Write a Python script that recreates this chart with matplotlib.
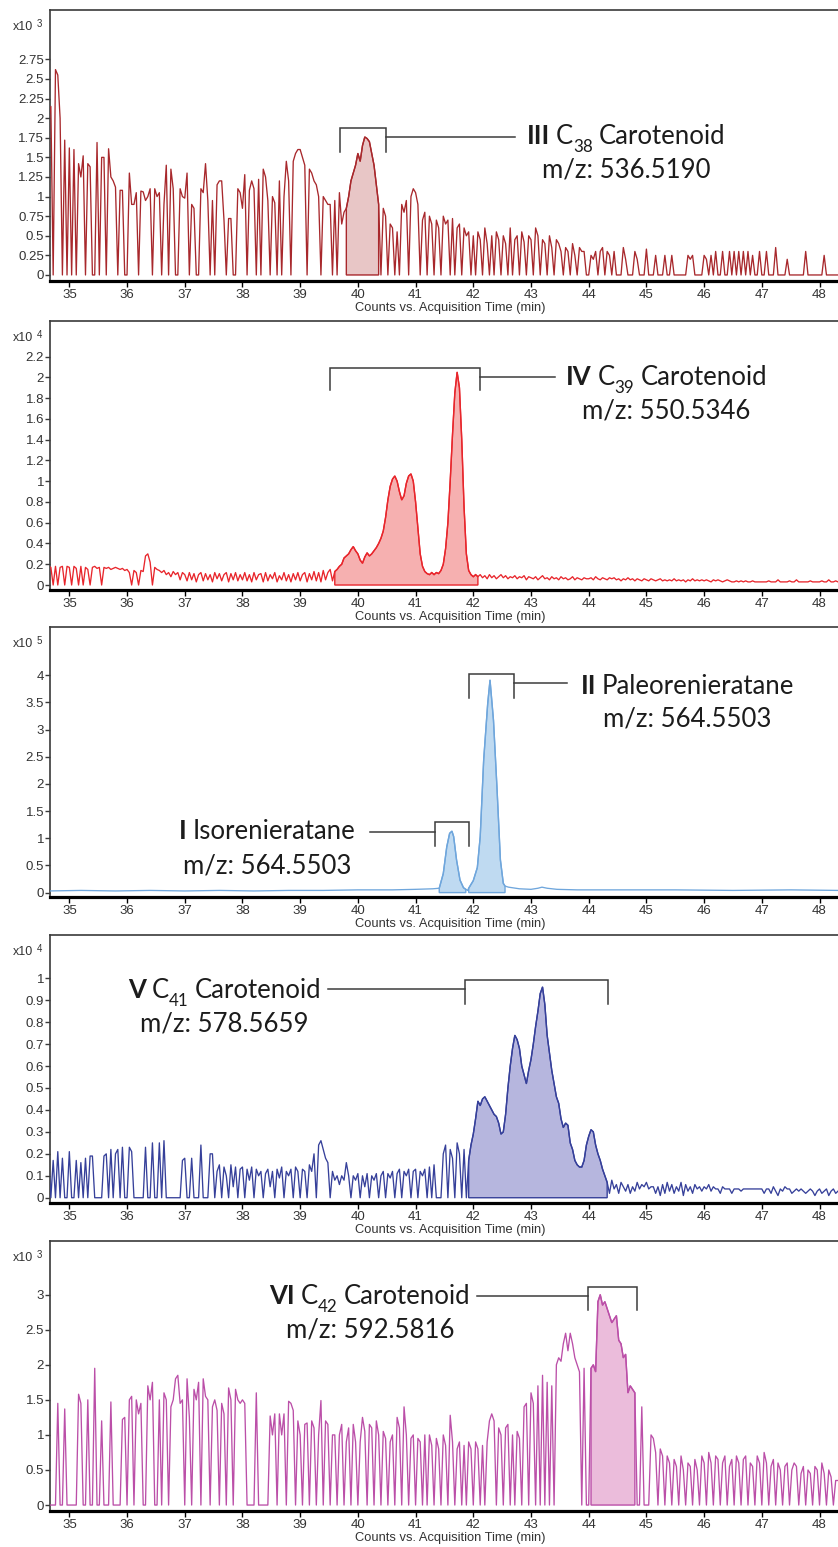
import numpy as np
import matplotlib
matplotlib.use("Agg")
import matplotlib.pyplot as plt
from matplotlib import transforms
from matplotlib.ticker import FixedLocator, FuncFormatter

plt.rcParams["font.family"] = ["Liberation Sans", "DejaVu Sans"]

# Extracted-ion chromatograms, one scan every SCAN_STEP minutes from SCAN_START.
SCAN_START = 34.64
SCAN_STEP = 0.04

# III  C38 carotenoid, m/z 536.5190 (x10^3 counts)
C38_COUNTS = [
    2.0, 2.15, 0.0, 2.62, 2.55, 2.0, 0.0, 1.72, 0.0,
    1.62, 0.0, 1.6, 0.0, 1.42, 1.25, 1.52, 0.0, 1.42, 1.38, 0.0, 0.0, 1.69, 0.0, 1.5, 1.5, 0.0, 1.61, 1.25, 1.2, 1.12, 0.0, 1.08, 1.08, 0.0,
    0.0, 1.3, 0.9, 0.9, 1.05, 0.0, 1.07, 1.06, 0.95, 1.0, 1.1, 0.0, 1.1, 1.0, 1.05, 0.0, 0.9, 1.4, 0.0, 1.35, 1.1, 0.0, 0.0, 1.1, 1.0,
    0.98, 1.3, 0.0, 0.9, 0.85, 0.0, 0.0, 1.1, 1.05, 1.42, 0.95, 0.0, 0.95, 0.0, 1.15, 1.2, 1.2, 0.7, 0.0, 0.72, 0.72, 0.0, 0.0, 1.1, 1.05,
    0.85, 1.28, 0.0, 1.08, 1.2, 1.1, 0.0, 1.22, 0.0, 1.35, 1.25, 0.95, 0.0, 1.0, 0.92, 0.0, 1.2, 0.0, 1.0, 1.45, 1.2, 0.0, 1.45, 1.55, 1.6,
    1.6, 1.5, 1.4, 0.0, 1.35, 1.3, 1.2, 1.15, 1.0, 0.0, 1.0, 0.95, 0.9, 0.9, 0.0, 0.95, 0.0, 1.05, 0.65, 0.8, 0.85, 1.0, 1.2, 1.3, 1.4,
    1.55, 1.45, 1.65, 1.76, 1.74, 1.7, 1.55, 1.4, 1.15, 0.9, 0.0, 0.85, 0.75, 0.0, 0.65, 0.6, 0.0, 0.55, 0.0, 0.9, 0.8, 0.95, 0.0, 1.0, 1.1,
    1.05, 0.9, 0.0, 0.7, 0.8, 0.0, 0.75, 0.65, 0.0, 0.7, 0.6, 0.0, 0.75, 0.65, 0.7, 0.0, 0.72, 0.0, 0.6, 0.65, 0.0, 0.6, 0.5, 0.55, 0.0,
    0.5, 0.0, 0.55, 0.45, 0.0, 0.6, 0.4, 0.0, 0.5, 0.0, 0.55, 0.45, 0.0, 0.5, 0.4, 0.0, 0.6, 0.0, 0.45, 0.5, 0.0, 0.55, 0.42, 0.0, 0.5,
    0.45, 0.0, 0.6, 0.5, 0.0, 0.45, 0.4, 0.0, 0.5, 0.35, 0.0, 0.45, 0.4, 0.3, 0.0, 0.35, 0.3, 0.0, 0.4, 0.25, 0.0, 0.35, 0.3, 0.3, 0.0,
    0.0, 0.25, 0.2, 0.3, 0.0, 0.3, 0.35, 0.0, 0.3, 0.25, 0.0, 0.3, 0.0, 0.0, 0.0, 0.35, 0.2, 0.0, 0.0, 0.0, 0.3, 0.2, 0.0, 0.0, 0.0,
    0.33, 0.0, 0.0, 0.0, 0.25, 0.0, 0.0, 0.0, 0.25, 0.0, 0.0, 0.25, 0.0, 0.0, 0.0, 0.0, 0.0, 0.0, 0.25, 0.2, 0.25, 0.0, 0.0, 0.0, 0.0,
    0.25, 0.2, 0.0, 0.25, 0.0, 0.3, 0.0, 0.0, 0.3, 0.0, 0.0, 0.3, 0.0, 0.3, 0.0, 0.3, 0.0, 0.3, 0.0, 0.3, 0.0, 0.25, 0.0, 0.0, 0.3,
    0.0, 0.0, 0.3, 0.0, 0.0, 0.0, 0.35, 0.0, 0.0, 0.0, 0.0, 0.2, 0.0, 0.0, 0.0, 0.0, 0.0, 0.0, 0.0, 0.3, 0.0, 0.0, 0.0, 0.0, 0.0,
    0.0, 0.0, 0.25, 0.0, 0.0, 0.0, 0.0, 0.0, 0.0,
]

# IV  C39 carotenoid, m/z 550.5346 (x10^4 counts)
C39_COUNTS = [
    0.18, 0.17, 0.0, 0.18, 0.0, 0.17, 0.18, 0.0, 0.18,
    0.17, 0.0, 0.18, 0.16, 0.0, 0.18, 0.0, 0.17, 0.15, 0.0, 0.17, 0.18, 0.16, 0.17, 0.0, 0.17, 0.16, 0.17, 0.15, 0.16, 0.17, 0.16, 0.15, 0.16, 0.14,
    0.15, 0.12, 0.0, 0.14, 0.12, 0.0, 0.14, 0.13, 0.28, 0.3, 0.22, 0.0, 0.17, 0.15, 0.14, 0.12, 0.14, 0.1, 0.12, 0.08, 0.13, 0.1, 0.12, 0.05, 0.12,
    0.1, 0.04, 0.12, 0.05, 0.11, 0.03, 0.1, 0.12, 0.04, 0.11, 0.05, 0.1, 0.03, 0.12, 0.06, 0.11, 0.04, 0.1, 0.12, 0.03, 0.11, 0.05, 0.12, 0.04, 0.1,
    0.05, 0.12, 0.04, 0.1, 0.03, 0.12, 0.05, 0.1, 0.11, 0.03, 0.12, 0.04, 0.1, 0.06, 0.12, 0.03, 0.09, 0.05, 0.12, 0.04, 0.1, 0.03, 0.11, 0.05, 0.12,
    0.04, 0.1, 0.12, 0.03, 0.11, 0.05, 0.13, 0.04, 0.12, 0.03, 0.14, 0.05, 0.12, 0.15, 0.04, 0.13, 0.15, 0.18, 0.2, 0.26, 0.28, 0.3, 0.34, 0.37, 0.33,
    0.3, 0.24, 0.21, 0.27, 0.31, 0.28, 0.3, 0.33, 0.36, 0.4, 0.45, 0.52, 0.65, 0.82, 0.95, 1.02, 1.05, 1.0, 0.9, 0.82, 0.86, 0.98, 1.05, 1.07, 1.0,
    0.8, 0.55, 0.3, 0.18, 0.13, 0.11, 0.1, 0.12, 0.1, 0.12, 0.11, 0.14, 0.2, 0.35, 0.6, 1.0, 1.45, 1.85, 2.05, 1.9, 1.4, 0.75, 0.3, 0.14, 0.1,
    0.08, 0.1, 0.08, 0.1, 0.07, 0.09, 0.06, 0.1, 0.07, 0.09, 0.06, 0.08, 0.1, 0.07, 0.09, 0.06, 0.08, 0.07, 0.09, 0.06, 0.08, 0.07, 0.09, 0.05, 0.08,
    0.07, 0.06, 0.08, 0.05, 0.07, 0.09, 0.06, 0.07, 0.05, 0.08, 0.06, 0.07, 0.05, 0.08, 0.06, 0.07, 0.05, 0.06, 0.08, 0.05, 0.07, 0.06, 0.05, 0.07, 0.06,
    0.06, 0.07, 0.05, 0.08, 0.06, 0.05, 0.07, 0.06, 0.05, 0.07, 0.06, 0.07, 0.05, 0.06, 0.04, 0.06, 0.05, 0.07, 0.05, 0.06, 0.04, 0.06, 0.05, 0.04, 0.06,
    0.05, 0.04, 0.06, 0.05, 0.04, 0.05, 0.06, 0.04, 0.05, 0.04, 0.05, 0.04, 0.06, 0.04, 0.05, 0.04, 0.05, 0.03, 0.05, 0.04, 0.06, 0.04, 0.05, 0.04, 0.05,
    0.04, 0.05, 0.04, 0.03, 0.05, 0.04, 0.05, 0.04, 0.03, 0.04, 0.05, 0.04, 0.03, 0.03, 0.04, 0.03, 0.04, 0.03, 0.04, 0.03, 0.03, 0.04, 0.03, 0.03, 0.03,
    0.03, 0.03, 0.03, 0.04, 0.03, 0.03, 0.03, 0.05, 0.03, 0.03, 0.03, 0.03, 0.04, 0.03, 0.03, 0.05, 0.03, 0.03, 0.03, 0.03, 0.03, 0.04, 0.03, 0.03, 0.03,
    0.03, 0.04, 0.03, 0.03, 0.05, 0.03, 0.03, 0.04, 0.03,
]

# I Isorenieratane / II Paleorenieratane, m/z 564.5503 (x10^5 counts), peak-picked vertices
C40_TIMES = [34.64, 35.2, 35.8, 36.4, 37.0, 37.6, 38.2, 38.8, 39.4, 40.0,
             40.6, 41.0, 41.3, 41.41, 41.48, 41.54, 41.59, 41.63, 41.66, 41.71,
             41.77, 41.83, 41.87, 41.9, 41.92, 41.96, 42.0, 42.07, 42.12, 42.18,
             42.25, 42.29, 42.35, 42.41, 42.47, 42.52, 42.55, 42.61, 42.8, 43.0,
             43.12, 43.19, 43.28, 43.45, 43.8, 44.5, 45.5, 46.5, 47.5, 48.32]
C40_COUNTS = [0.03, 0.04, 0.03, 0.04, 0.03, 0.04, 0.03, 0.04, 0.04, 0.05,
              0.05, 0.06, 0.07, 0.08, 0.35, 0.84, 1.09, 1.13, 1.03, 0.6,
              0.23, 0.09, 0.06, 0.04, 0.08, 0.15, 0.22, 0.46, 1.03, 2.44,
              3.48, 3.91, 3.17, 1.94, 0.6, 0.17, 0.12, 0.1, 0.07, 0.06,
              0.08, 0.1, 0.08, 0.06, 0.05, 0.05, 0.05, 0.04, 0.05, 0.04]

# V  C41 carotenoid, m/z 578.5659 (x10^4 counts)
C41_COUNTS = [
    0.18, 0.0, 0.17, 0.0, 0.21, 0.0, 0.18, 0.0, 0.0,
    0.21, 0.0, 0.0, 0.17, 0.0, 0.16, 0.0, 0.18, 0.0, 0.19, 0.19, 0.0, 0.0, 0.0, 0.0, 0.19, 0.2, 0.0, 0.22, 0.0, 0.2, 0.22, 0.0, 0.23, 0.0,
    0.0, 0.23, 0.21, 0.0, 0.0, 0.0, 0.0, 0.0, 0.23, 0.0, 0.0, 0.25, 0.0, 0.0, 0.25, 0.0, 0.26, 0.0, 0.0, 0.0, 0.0, 0.0, 0.0, 0.0, 0.17,
    0.18, 0.0, 0.0, 0.18, 0.0, 0.0, 0.0, 0.24, 0.0, 0.0, 0.0, 0.2, 0.2, 0.0, 0.12, 0.15, 0.0, 0.14, 0.1, 0.0, 0.15, 0.05, 0.14, 0.0, 0.13,
    0.14, 0.0, 0.13, 0.08, 0.14, 0.0, 0.13, 0.1, 0.12, 0.0, 0.11, 0.13, 0.05, 0.12, 0.0, 0.13, 0.09, 0.14, 0.0, 0.12, 0.1, 0.13, 0.0, 0.14, 0.12,
    0.0, 0.13, 0.12, 0.0, 0.15, 0.12, 0.2, 0.0, 0.24, 0.26, 0.22, 0.18, 0.16, 0.0, 0.12, 0.08, 0.1, 0.06, 0.1, 0.08, 0.16, 0.1, 0.0, 0.1, 0.08,
    0.11, 0.0, 0.1, 0.05, 0.11, 0.0, 0.1, 0.08, 0.11, 0.0, 0.1, 0.12, 0.0, 0.11, 0.09, 0.12, 0.0, 0.11, 0.13, 0.0, 0.12, 0.1, 0.13, 0.0, 0.12,
    0.13, 0.0, 0.12, 0.1, 0.13, 0.0, 0.14, 0.0, 0.15, 0.0, 0.0, 0.0, 0.2, 0.24, 0.0, 0.22, 0.18, 0.0, 0.25, 0.2, 0.0, 0.22, 0.0, 0.17, 0.24,
    0.29, 0.36, 0.44, 0.42, 0.45, 0.46, 0.44, 0.42, 0.4, 0.38, 0.37, 0.34, 0.29, 0.3, 0.38, 0.5, 0.6, 0.68, 0.74, 0.72, 0.68, 0.6, 0.56, 0.52, 0.58,
    0.63, 0.7, 0.78, 0.85, 0.93, 0.96, 0.88, 0.74, 0.66, 0.58, 0.52, 0.46, 0.43, 0.36, 0.32, 0.34, 0.33, 0.25, 0.22, 0.17, 0.15, 0.14, 0.14, 0.17, 0.24,
    0.28, 0.31, 0.3, 0.24, 0.2, 0.17, 0.13, 0.1, 0.07, 0.02, 0.08, 0.04, 0.06, 0.02, 0.07, 0.05, 0.03, 0.06, 0.02, 0.05, 0.03, 0.07, 0.04, 0.06, 0.05,
    0.07, 0.04, 0.05, 0.05, 0.02, 0.05, 0.01, 0.06, 0.02, 0.07, 0.03, 0.06, 0.02, 0.05, 0.03, 0.07, 0.01, 0.06, 0.03, 0.05, 0.02, 0.06, 0.04, 0.05, 0.03,
    0.05, 0.04, 0.06, 0.03, 0.05, 0.04, 0.04, 0.02, 0.05, 0.04, 0.04, 0.04, 0.02, 0.04, 0.04, 0.04, 0.03, 0.04, 0.04, 0.04, 0.04, 0.04, 0.04, 0.04, 0.04,
    0.04, 0.02, 0.04, 0.04, 0.02, 0.05, 0.03, 0.01, 0.04, 0.03, 0.05, 0.04, 0.04, 0.02, 0.03, 0.04, 0.03, 0.04, 0.03, 0.02, 0.03, 0.04, 0.03, 0.01, 0.03,
    0.04, 0.02, 0.03, 0.04, 0.01, 0.03, 0.04, 0.02, 0.03,
]

# VI  C42 carotenoid, m/z 592.5816 (x10^3 counts)
C42_COUNTS = [
    0.0, 0.0, 0.0, 0.0, 1.45, 0.0, 0.0, 1.37, 0.0,
    0.0, 0.0, 0.0, 0.0, 1.58, 1.45, 0.0, 0.0, 1.5, 0.0, 0.0, 1.95, 0.0, 0.0, 1.2, 0.0, 0.0, 0.0, 1.47, 0.0, 0.0, 0.0, 0.0, 1.22, 1.25,
    0.0, 1.5, 1.55, 0.0, 1.5, 1.3, 1.45, 0.0, 0.0, 1.7, 1.5, 1.75, 0.0, 0.0, 1.5, 0.0, 1.6, 1.5, 0.0, 1.4, 1.5, 1.8, 1.85, 1.45, 1.5,
    0.0, 1.8, 1.25, 0.0, 1.65, 1.5, 1.75, 0.0, 1.8, 1.55, 1.5, 0.0, 1.4, 1.5, 1.35, 0.0, 1.45, 1.3, 0.0, 1.67, 1.5, 0.0, 1.65, 1.5, 1.45,
    1.5, 1.45, 0.0, 0.0, 0.0, 0.0, 1.6, 0.0, 0.0, 0.0, 0.0, 0.0, 1.27, 1.0, 1.3, 0.0, 1.3, 1.0, 1.3, 0.0, 1.48, 1.45, 1.35, 0.0, 1.2,
    1.0, 0.0, 1.15, 1.17, 0.0, 1.2, 1.1, 0.0, 1.0, 1.49, 0.0, 1.2, 1.15, 0.0, 1.0, 1.0, 0.0, 1.0, 1.15, 0.0, 0.9, 1.1, 0.0, 1.15, 0.9,
    0.0, 0.9, 1.25, 1.05, 0.0, 1.15, 1.1, 0.0, 1.2, 1.0, 0.0, 1.05, 0.95, 0.0, 0.9, 1.0, 0.0, 1.25, 1.1, 0.0, 1.4, 1.0, 0.0, 0.95, 1.0,
    0.0, 0.95, 0.9, 0.0, 1.0, 0.0, 1.0, 0.85, 0.0, 0.95, 0.8, 0.0, 1.0, 0.85, 0.0, 1.28, 0.9, 0.0, 0.8, 0.9, 0.0, 0.85, 0.0, 0.9, 0.8,
    0.0, 0.9, 0.8, 0.0, 0.85, 0.0, 0.9, 1.2, 1.3, 1.2, 0.0, 1.1, 1.0, 0.0, 1.1, 1.15, 0.0, 1.0, 0.0, 1.05, 0.95, 0.0, 1.4, 1.45, 0.0,
    1.6, 1.45, 0.0, 1.7, 0.0, 1.85, 0.0, 1.75, 0.0, 1.7, 0.0, 2.0, 2.1, 2.05, 2.3, 2.45, 2.2, 2.45, 2.3, 2.1, 2.0, 1.9, 0.0, 1.95, 0.0,
    0.0, 1.95, 2.0, 1.9, 2.9, 3.0, 2.85, 2.9, 2.8, 2.7, 2.6, 2.65, 2.7, 2.35, 2.3, 2.1, 2.15, 1.6, 1.7, 1.65, 1.6, 0.0, 0.0, 1.4, 0.0,
    0.0, 0.0, 1.0, 0.95, 0.75, 0.0, 0.8, 0.7, 0.0, 0.7, 0.6, 0.0, 0.65, 0.55, 0.0, 0.7, 0.5, 0.0, 0.6, 0.55, 0.0, 0.65, 0.5, 0.0, 0.7,
    0.6, 0.0, 0.75, 0.6, 0.0, 0.7, 0.65, 0.0, 0.6, 0.7, 0.0, 0.55, 0.65, 0.0, 0.7, 0.6, 0.0, 0.65, 0.7, 0.0, 0.6, 0.55, 0.0, 0.7, 0.6,
    0.0, 0.75, 0.6, 0.0, 0.55, 0.65, 0.0, 0.6, 0.5, 0.0, 0.55, 0.6, 0.0, 0.5, 0.6, 0.55, 0.0, 0.45, 0.55, 0.0, 0.5, 0.45, 0.0, 0.55, 0.5,
    0.0, 0.6, 0.45, 0.0, 0.5, 0.4, 0.0, 0.35, 0.35,
]

X_TICKS = list(range(35, 49))


def scan_times(values):
    return np.round(SCAN_START + SCAN_STEP * np.arange(len(values)), 2)


W_PX, H_PX = 838, 1547
fig = plt.figure(figsize=(W_PX / 100, H_PX / 100), dpi=100)
renderer = fig.canvas.get_renderer()

# label runs: (text, kind, gap before in px); kind is "b" bold, "r" regular, "s" subscript
PANELS = [
    dict(t=scan_times(C38_COUNTS), y=C38_COUNTS, top=10, bottom=281, ylim=(-0.077, 3.38),
         yticks=[0, 0.25, 0.5, 0.75, 1, 1.25, 1.5, 1.75, 2, 2.25, 2.5, 2.75], exp="3",
         line="#a8282c", face="#e8c6c6", areas=[(39.80, 40.36)],
         marks=[dict(bracket=(39.69, 40.49, 1.875, 1.57), link=(40.49, 42.72, 1.76),
                     cx=44.65, y1=1.671, y2=1.246,
                     l1=[("III", "b", 0), ("C", "r", 6), ("38", "s", 0), ("Carotenoid", "r", 6)],
                     l2="m/z: 536.5190")]),
    dict(t=scan_times(C39_COUNTS), y=C39_COUNTS, top=321, bottom=590, ylim=(-0.048, 2.543),
         yticks=[0, 0.2, 0.4, 0.6, 0.8, 1, 1.2, 1.4, 1.6, 1.8, 2, 2.2], exp="4",
         line="#e8262c", face="#f6b0b0", areas=[(39.60, 42.08)],
         marks=[dict(bracket=(39.52, 42.12, 2.093, 1.879), link=(42.12, 43.42, 2.0),
                     cx=45.35, y1=1.925, y2=1.604,
                     l1=[("IV", "b", 0), ("C", "r", 6), ("39", "s", 0), ("Carotenoid", "r", 6)],
                     l2="m/z: 550.5346")]),
    dict(t=C40_TIMES, y=C40_COUNTS, top=627, bottom=897, ylim=(-0.081, 4.886),
         yticks=[0, 0.5, 1, 1.5, 2, 2.5, 3, 3.5, 4], exp="5",
         line="#6fa6dc", face="#bfdaf1", areas=[(41.41, 41.87), (41.92, 42.55)],
         marks=[dict(bracket=(41.92, 42.70, 4.015, 3.584), link=(42.70, 43.62, 3.85),
                     cx=45.71, y1=3.661, y2=3.053,
                     l1=[("II", "b", 0), ("Paleorenieratane", "r", 6)],
                     l2="m/z: 564.5503"),
                dict(bracket=(41.33, 41.92, 1.30, 0.853), link=(40.21, 41.33, 1.11),
                     cx=38.43, y1=0.978, y2=0.346,
                     l1=[("I", "b", 0), ("Isorenieratane", "r", 6)],
                     l2="m/z: 564.5503")]),
    dict(t=scan_times(C41_COUNTS), y=C41_COUNTS, top=935, bottom=1203, ylim=(-0.024, 1.197),
         yticks=[0, 0.1, 0.2, 0.3, 0.4, 0.5, 0.6, 0.7, 0.8, 0.9, 1], exp="4",
         line="#36409a", face="#b6b6de", areas=[(41.92, 44.32)],
         marks=[dict(bracket=(41.85, 44.34, 0.992, 0.881), link=(39.48, 41.85, 0.95),
                     cx=37.69, y1=0.911, y2=0.756,
                     l1=[("V", "b", 0), ("C", "r", 6), ("41", "s", 0), ("Carotenoid", "r", 6)],
                     l2="m/z: 578.5659")]),
    dict(t=scan_times(C42_COUNTS), y=C42_COUNTS, top=1241, bottom=1511, ylim=(-0.085, 3.765),
         yticks=[0, 0.5, 1, 1.5, 2, 2.5, 3], exp="3",
         line="#bb4fa8", face="#ebbcdb", areas=[(44.04, 44.80)],
         marks=[dict(bracket=(43.98, 44.84, 3.11, 2.78), link=(42.07, 43.98, 2.977),
                     cx=40.21, y1=2.870, y2=2.382,
                     l1=[("VI", "b", 0), ("C", "r", 6), ("42", "s", 0), ("Carotenoid", "r", 6)],
                     l2="m/z: 592.5816")]),
]

AXIS_GREY = "#3a3a3a"
LABEL_GREY = "#333333"
NOTE_INK = "#1c1c1c"
NOTE_SIZE = 18.5
NOTE_FONT = "Lato"


def shade_peak(ax, t, y, lo, hi, face, edge):
    t = np.asarray(t, dtype=float)
    y = np.asarray(y, dtype=float)
    m = (t >= lo - 1e-9) & (t <= hi + 1e-9)
    xs = np.concatenate([[t[m][0]], t[m], [t[m][-1]]])
    ys = np.concatenate([[0.0], y[m], [0.0]])
    ax.fill(xs, ys, facecolor=face, edgecolor=edge, linewidth=1.0, zorder=2)


def label_runs(ax, x, y, runs):
    """Lay a centred line of mixed bold / regular / subscript runs at (x, y)."""
    items = []
    for text, kind, gap in runs:
        size = NOTE_SIZE * 0.66 if kind == "s" else NOTE_SIZE
        weight = "bold" if kind == "b" else "normal"
        t = ax.text(x, y, text, fontsize=size, fontweight=weight, family=NOTE_FONT,
                    color=NOTE_INK, ha="left", va="baseline", zorder=5)
        w = t.get_window_extent(renderer).width
        items.append((t, kind, gap, w))
    total = sum(g + w for _, _, g, w in items)
    cursor = -total / 2
    for t, kind, gap, w in items:
        cursor += gap
        dy = -8 if kind == "s" else 0
        t.set_transform(transforms.offset_copy(ax.transData, fig=fig, x=cursor, y=dy,
                                               units="dots"))
        cursor += w


for p in PANELS:
    left, right = 50, W_PX
    ax = fig.add_axes([left / W_PX, 1 - p["bottom"] / H_PX,
                       (right - left) / W_PX, (p["bottom"] - p["top"]) / H_PX])
    ax.set_xlim(34.665, 48.32)
    ax.set_ylim(*p["ylim"])

    for lo, hi in p["areas"]:
        shade_peak(ax, p["t"], p["y"], lo, hi, p["face"], p["line"])
    ax.plot(p["t"], p["y"], color=p["line"], linewidth=0.95, zorder=3)

    ax.spines["right"].set_visible(False)
    for side in ("top", "left"):
        ax.spines[side].set_color(AXIS_GREY)
        ax.spines[side].set_linewidth(1.2)
    ax.spines["bottom"].set_color("black")
    ax.spines["bottom"].set_linewidth(2.3)

    ax.xaxis.set_major_locator(FixedLocator(X_TICKS))
    ax.yaxis.set_major_locator(FixedLocator(p["yticks"]))
    ax.yaxis.set_major_formatter(FuncFormatter(lambda v, _: f"{v:g}"))
    ax.tick_params(axis="x", direction="out", length=4, width=1.0, pad=1.5,
                   labelsize=9.5, color="black", labelcolor=LABEL_GREY)
    ax.tick_params(axis="y", direction="out", length=3.5, width=1.0, pad=0.8,
                   labelsize=9.5, color=AXIS_GREY, labelcolor=LABEL_GREY)

    # scale factor in the upper-left corner
    tr = transforms.offset_copy(ax.transAxes, fig=fig, x=-37, y=-17, units="dots")
    ax.text(0, 1, "x10", transform=tr, fontsize=9, color=LABEL_GREY,
            ha="left", va="center")
    tr2 = transforms.offset_copy(ax.transAxes, fig=fig, x=-13, y=-14, units="dots")
    ax.text(0, 1, p["exp"], transform=tr2, fontsize=7, color=LABEL_GREY,
            ha="left", va="center")

    # axis caption under the time ticks
    fig.text(450 / W_PX, 1 - (p["bottom"] + 27) / H_PX,
             "Counts vs. Acquisition Time (min)", fontsize=9.3,
             color=LABEL_GREY, ha="center", va="center")

    for mk in p["marks"]:
        l, r, top, leg = mk["bracket"]
        ax.plot([l, l, r, r], [leg, top, top, leg], color="#3c3c3c",
                linewidth=1.1, zorder=4, solid_joinstyle="miter")
        x0, x1, yl = mk["link"]
        ax.plot([x0, x1], [yl, yl], color="#3c3c3c", linewidth=1.1, zorder=4)
        label_runs(ax, mk["cx"], mk["y1"], mk["l1"])
        ax.text(mk["cx"], mk["y2"], mk["l2"], fontsize=NOTE_SIZE, family=NOTE_FONT,
                color=NOTE_INK, ha="center", va="baseline", zorder=5)

fig.savefig("out.png", dpi=100, facecolor="white")
